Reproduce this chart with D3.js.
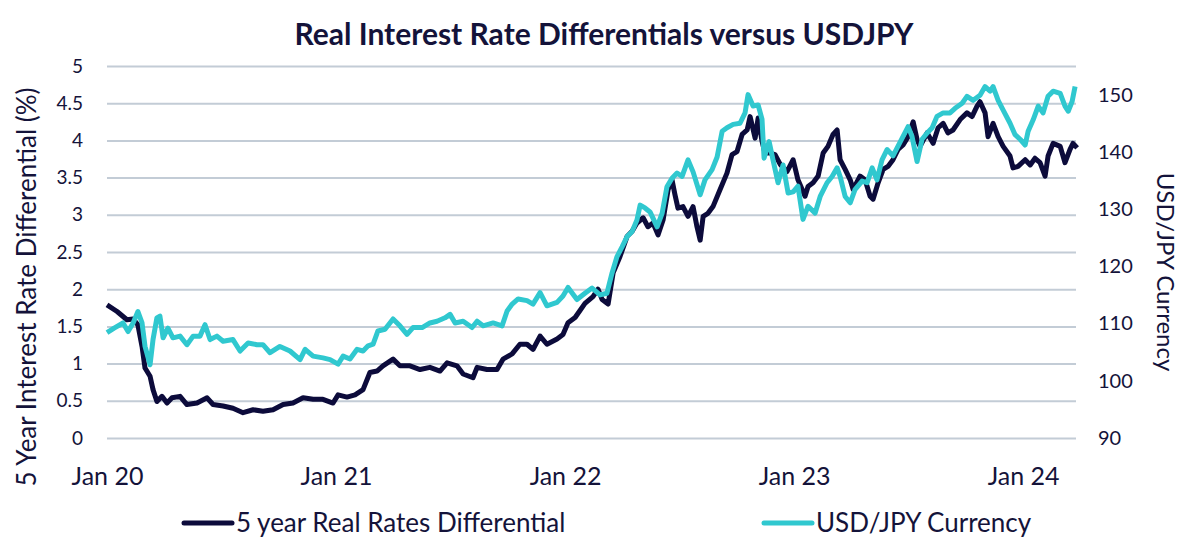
<!DOCTYPE html>
<html>
<head>
<meta charset="utf-8">
<script src="https://cdn.jsdelivr.net/npm/d3@7"></script>
<style>
  body { margin: 0; background: #fff; }
  text { font-family: Lato, "Open Sans", sans-serif; fill: #14133a; }
</style>
</head>
<body>
<div id="chart"></div>
<script>
// time in decimal years
var rateYears = [2020.000,2020.044,2020.087,2020.114,2020.135,2020.153,2020.166,2020.188,2020.201,2020.218,
  2020.240,2020.262,2020.284,2020.319,2020.349,2020.393,2020.437,2020.463,2020.507,2020.550,
  2020.594,2020.638,2020.681,2020.725,2020.769,2020.812,2020.856,2020.900,2020.943,2020.987,
  2021.009,2021.048,2021.083,2021.118,2021.148,2021.179,2021.205,2021.249,2021.279,2021.323,
  2021.367,2021.410,2021.454,2021.485,2021.528,2021.555,2021.598,2021.616,2021.659,2021.703,
  2021.729,2021.769,2021.803,2021.834,2021.860,2021.891,2021.921,2021.965,2021.991,2022.013,
  2022.044,2022.087,2022.122,2022.144,2022.162,2022.188,2022.210,2022.240,2022.271,2022.293,
  2022.314,2022.341,2022.362,2022.384,2022.406,2022.428,2022.450,2022.467,2022.480,2022.493,
  2022.515,2022.537,2022.559,2022.576,2022.590,2022.603,2022.624,2022.646,2022.677,2022.707,
  2022.729,2022.751,2022.773,2022.795,2022.808,2022.830,2022.843,2022.860,2022.873,2022.895,
  2022.917,2022.939,2022.969,2022.996,2023.017,2023.048,2023.061,2023.083,2023.105,2023.127,
  2023.148,2023.170,2023.188,2023.201,2023.223,2023.245,2023.258,2023.288,2023.310,2023.332,
  2023.345,2023.367,2023.389,2023.410,2023.432,2023.454,2023.476,2023.498,2023.520,2023.537,
  2023.550,2023.581,2023.607,2023.629,2023.651,2023.672,2023.694,2023.725,2023.755,2023.777,
  2023.799,2023.812,2023.834,2023.847,2023.869,2023.891,2023.913,2023.943,2023.956,2023.978,
  2024.009,2024.031,2024.052,2024.074,2024.096,2024.109,2024.131,2024.162,2024.183,2024.205,
  2024.218,2024.236];
var rateValues = [1.79,1.70,1.59,1.60,1.52,1.23,0.94,0.83,0.65,0.49,
  0.56,0.47,0.54,0.56,0.45,0.47,0.54,0.45,0.43,0.40,
  0.34,0.38,0.36,0.38,0.45,0.47,0.54,0.52,0.52,0.47,
  0.58,0.55,0.58,0.65,0.88,0.90,0.97,1.06,0.97,0.97,
  0.92,0.95,0.90,1.01,0.97,0.86,0.81,0.95,0.92,0.92,
  1.06,1.13,1.26,1.26,1.19,1.37,1.26,1.33,1.39,1.55,
  1.62,1.81,1.90,2.00,1.86,1.80,2.22,2.44,2.71,2.78,
  2.89,2.96,2.84,2.89,2.73,2.93,3.34,3.47,3.27,3.09,
  3.11,2.98,3.11,2.84,2.66,2.98,3.02,3.11,3.34,3.56,
  3.81,3.85,4.08,4.14,4.32,4.03,4.30,3.99,3.83,3.83,
  3.81,3.68,3.58,3.74,3.47,3.25,3.38,3.43,3.52,3.83,
  3.92,4.08,4.14,3.74,3.61,3.47,3.34,3.52,3.47,3.25,
  3.21,3.43,3.61,3.65,3.74,3.88,3.94,4.05,4.25,4.01,
  3.92,4.10,3.96,4.17,4.23,4.10,4.14,4.28,4.37,4.32,
  4.46,4.52,4.37,4.05,4.23,4.05,3.92,3.79,3.63,3.65,
  3.74,3.67,3.76,3.70,3.52,3.79,3.96,3.92,3.70,3.88,
  3.96,3.90];

var fxYears = [2020.000,2020.031,2020.070,2020.092,2020.114,2020.135,2020.153,2020.166,2020.188,2020.201,
  2020.218,2020.231,2020.245,2020.266,2020.288,2020.319,2020.349,2020.376,2020.406,2020.428,
  2020.450,2020.480,2020.507,2020.550,2020.581,2020.616,2020.655,2020.681,2020.712,2020.755,
  2020.799,2020.843,2020.865,2020.900,2020.943,2020.974,2021.009,2021.031,2021.061,2021.092,
  2021.118,2021.140,2021.162,2021.183,2021.214,2021.249,2021.279,2021.310,2021.336,2021.376,
  2021.410,2021.441,2021.476,2021.498,2021.520,2021.555,2021.594,2021.616,2021.642,2021.686,
  2021.725,2021.747,2021.769,2021.795,2021.834,2021.860,2021.891,2021.921,2021.965,2021.991,
  2022.013,2022.052,2022.087,2022.118,2022.153,2022.183,2022.205,2022.227,2022.249,2022.271,
  2022.293,2022.314,2022.328,2022.349,2022.371,2022.402,2022.424,2022.445,2022.467,2022.489,
  2022.511,2022.537,2022.559,2022.590,2022.611,2022.642,2022.664,2022.686,2022.707,2022.734,
  2022.764,2022.786,2022.799,2022.821,2022.843,2022.860,2022.869,2022.891,2022.908,2022.930,
  2022.952,2022.974,2022.996,2023.017,2023.039,2023.061,2023.092,2023.114,2023.144,2023.166,
  2023.188,2023.201,2023.223,2023.245,2023.266,2023.297,2023.319,2023.341,2023.362,2023.384,
  2023.406,2023.432,2023.454,2023.476,2023.498,2023.515,2023.537,2023.559,2023.581,2023.603,
  2023.624,2023.651,2023.681,2023.703,2023.734,2023.755,2023.782,2023.812,2023.834,2023.856,
  2023.869,2023.891,2023.913,2023.943,2023.965,2023.987,2024.009,2024.022,2024.044,2024.066,
  2024.087,2024.109,2024.131,2024.162,2024.183,2024.197,2024.214,2024.227];
var fxValues = [108.4,109.2,110.1,108.6,110.1,112.1,110.1,106.0,102.8,107.2,
  111.0,111.3,107.5,109.2,107.5,107.8,106.3,107.8,107.8,109.8,
  107.2,107.8,106.9,107.2,105.2,106.6,106.3,106.3,104.9,106.0,
  105.2,103.7,105.5,104.3,104.0,103.7,102.9,104.3,103.8,105.5,
  105.2,106.1,106.4,108.7,109.0,110.8,109.6,108.1,109.3,109.3,
  110.1,110.4,111.0,111.6,110.1,110.4,109.3,110.4,109.6,110.1,
  109.6,112.2,113.4,114.3,114.0,113.4,115.4,113.1,113.7,114.8,
  116.3,114.2,115.3,116.2,115.0,115.3,118.8,121.7,123.4,125.2,
  126.1,128.1,130.7,130.2,129.5,126.9,129.3,133.9,135.4,136.3,
  135.7,138.6,136.5,132.5,135.1,136.9,139.1,143.6,144.2,144.8,
  145.0,146.8,150.0,148.0,148.2,145.7,138.9,141.8,138.6,134.6,
  137.7,132.8,133.0,134.0,128.2,130.5,129.3,132.2,134.6,135.7,
  137.2,135.7,132.2,131.1,133.4,134.9,134.6,137.2,135.1,138.6,
  140.4,139.3,141.0,142.7,144.4,142.7,138.3,142.2,143.3,144.2,
  146.2,146.8,146.8,147.6,148.5,149.7,149.0,149.9,151.4,150.6,
  151.4,149.0,147.3,145.0,143.0,142.2,141.2,143.6,145.6,148.0,
  146.8,149.7,150.6,150.2,148.0,147.1,148.8,151.4];

var yearTicks = [2020, 2021, 2022, 2023, 2024];
var yearLabels = ["Jan 20", "Jan 21", "Jan 22", "Jan 23", "Jan 24"];
var rateTicks = [0, 0.5, 1, 1.5, 2, 2.5, 3, 3.5, 4, 4.5, 5];
var rateLabels = ["0", "0.5", "1", "1.5", "2", "2.5", "3", "3.5", "4", "4.5", "5"];
var fxTicks = [90, 100, 110, 120, 130, 140, 150];
var seriesNames = ["5 year Real Rates Differential", "USD/JPY Currency"];
var seriesColors = ["#0c0b3b", "#30c8cf"];

var w = 1200, h = 548,
  plotLeft = 107, plotRight = 1076, plotTop = 66, plotBottom = 438;

var svg = d3.select("#chart").append("svg")
  .attr("width", w)
  .attr("height", h);

var x = d3.scaleLinear().domain([2020, 2024.231]).range([plotLeft, plotRight]);
var yRate = d3.scaleLinear().domain([0, 5]).range([plotBottom, plotTop]);
var yFx = d3.scaleLinear().domain([90, 155]).range([plotBottom, plotTop]);

// gridlines
svg.append("g")
  .attr("transform", "translate(" + plotLeft + ",0)")
  .call(d3.axisLeft(yRate).tickValues(rateTicks).tickSize(-(plotRight - plotLeft)).tickFormat(""))
  .call(function(g) {
    g.select(".domain").remove();
    g.selectAll("line").attr("stroke", "#c3ccd6").attr("stroke-width", 2);
  });

// left axis labels
svg.append("g")
  .attr("transform", "translate(" + plotLeft + ",0)")
  .call(d3.axisLeft(yRate).tickValues(rateTicks).tickSize(0).tickPadding(24)
    .tickFormat(function(d, i) { return rateLabels[i]; }))
  .call(function(g) {
    g.select(".domain").remove();
    g.selectAll("text").style("font-size", "19px").attr("fill", "#14133a");
  });

// right axis labels
svg.append("g")
  .attr("transform", "translate(" + plotRight + ",0)")
  .call(d3.axisRight(yFx).tickValues(fxTicks).tickSize(0).tickPadding(22))
  .call(function(g) {
    g.select(".domain").remove();
    g.selectAll("text").style("font-size", "20px").attr("fill", "#14133a");
  });

// x axis labels
svg.append("g")
  .attr("transform", "translate(0," + plotBottom + ")")
  .call(d3.axisBottom(x).tickValues(yearTicks).tickSize(0).tickPadding(29)
    .tickFormat(function(d, i) { return yearLabels[i]; }))
  .call(function(g) {
    g.select(".domain").remove();
    g.selectAll("text").style("font-size", "25px").attr("fill", "#14133a");
  });

var rateLine = d3.line()
  .x(function(d, i) { return x(rateYears[i]); })
  .y(function(d) { return yRate(d); });

var fxLine = d3.line()
  .x(function(d, i) { return x(fxYears[i]); })
  .y(function(d) { return yFx(d); });

svg.append("path")
  .datum(rateValues)
  .attr("d", rateLine)
  .attr("fill", "none")
  .attr("stroke", seriesColors[0])
  .attr("stroke-width", 5)
  .attr("stroke-linejoin", "round");

svg.append("path")
  .datum(fxValues)
  .attr("d", fxLine)
  .attr("fill", "none")
  .attr("stroke", seriesColors[1])
  .attr("stroke-width", 5)
  .attr("stroke-linejoin", "round");

// title
svg.append("text")
  .text("Real Interest Rate Differentials versus USDJPY")
  .attr("x", 604)
  .attr("y", 45)
  .attr("text-anchor", "middle")
  .style("font-size", "30px")
  .style("font-weight", "bold")
  .attr("fill", "#0c0b3b");

// axis titles
svg.append("text")
  .text("5 Year Interest Rate Differential (%)")
  .attr("transform", "translate(27,287) rotate(-90)")
  .attr("text-anchor", "middle")
  .attr("dy", "0.35em")
  .style("font-size", "26px");

svg.append("text")
  .text("USD/JPY Currency")
  .attr("transform", "translate(1165,272) rotate(90)")
  .attr("text-anchor", "middle")
  .attr("dy", "0.35em")
  .style("font-size", "24px");

// legend
var legendX = [184, 764];
seriesNames.forEach(function(name, i) {
  svg.append("line")
    .attr("x1", legendX[i]).attr("x2", legendX[i] + 48)
    .attr("y1", 523).attr("y2", 523)
    .attr("stroke", seriesColors[i])
    .attr("stroke-width", 5)
    .attr("stroke-linecap", "round");
  svg.append("text")
    .text(name)
    .attr("x", legendX[i] + 52)
    .attr("y", 523)
    .attr("dy", "0.35em")
    .style("font-size", "26px");
});
</script>
</body>
</html>
